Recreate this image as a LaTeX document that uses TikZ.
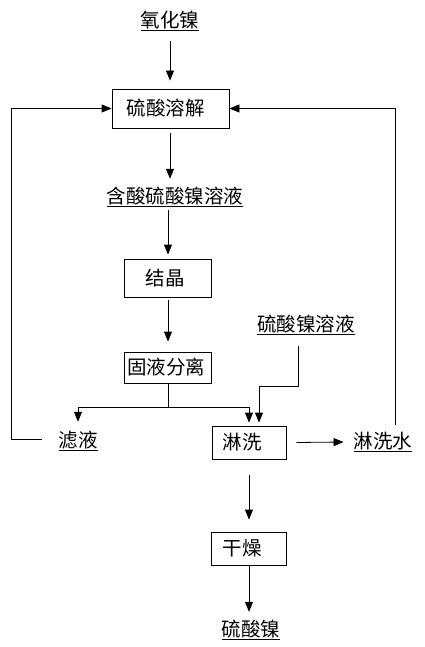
\documentclass[tikz,border=0pt]{standalone}
\usepackage{fontspec}
\setmainfont{Noto Sans CJK SC}
\usetikzlibrary{arrows.meta}
\begin{document}
\begin{tikzpicture}[x=1pt,y=-1pt,
  every node/.style={font=\fontsize{19.5}{19.5}\selectfont, inner sep=0pt},
  proc/.style={draw, line width=0.8pt, minimum height=#1, anchor=center},
  lbl/.style={anchor=center},
  flow/.style={line width=0.8pt, -{Triangle[length=10pt,width=8pt]}},
  wire/.style={line width=0.8pt}]
\useasboundingbox (0,0) rectangle (424,647);
% nodes
\node[lbl] (nio) at (170,21) {\underline{氧化镍}};
\node[proc=39pt, minimum width=117pt] (diss) at (170.5,108.5) {硫酸溶解\hspace*{10pt}};
\node[lbl] (acid) at (175,197) {\underline{含酸硫酸镍溶液}};
\node[proc=38pt, minimum width=87pt] (cryst) at (168,278) {结晶\hspace*{6pt}};
\node[proc=31pt, minimum width=87pt] (sep) at (168,367.5) {固液分离\hspace*{4pt}};
\node[lbl] (nis) at (306,325) {\underline{硫酸镍溶液}};
\node[lbl] (filt) at (78,441) {\underline{滤液}};
\node[proc=33pt, minimum width=74pt] (wash) at (249,442.5) {淋洗\hspace*{14pt}};
\node[lbl] (washw) at (383,442) {\underline{淋洗水}};
\node[proc=33pt, minimum width=75pt] (dry) at (249,548.5) {干燥\hspace*{14pt}};
\node[lbl] (prod) at (251,630) {\underline{硫酸镍}};
% helper coordinates
\coordinate (sepdown) at (168,407);
\coordinate (nistop) at (298,346);
\coordinate (nisbend) at (298,386);
\coordinate (filtend) at (42,439);
\coordinate (lb) at (11,439);
\coordinate (lt) at (11,108.5);
\coordinate (rb) at (395,425);
\coordinate (rt) at (395,108.5);
% connectors
\draw[flow] ([yshift=-10pt]nio.south) -- ([yshift=8pt]nio.south |- diss.north);
\draw[flow] ([yshift=-5pt]nio.south |- diss.south) -- ([yshift=8pt]nio.south |- acid.north);
\draw[flow] ([yshift=-3pt]acid.south -| cryst.north) -- ([yshift=4pt]cryst.north);
\draw[flow] ([yshift=-3pt]cryst.south) -- ([yshift=10pt]sep.north);
\draw[wire] (sep.south) -- (sepdown);
\draw[flow] (sepdown) -| ([yshift=9pt]filt.north);
\draw[flow] (sepdown) -| ([yshift=3pt]wash.north);
\draw[flow] (nistop) -- (nisbend) -| ([xshift=10pt,yshift=3pt]wash.north);
\draw[flow] (filtend) -- (lb) -- (lt) -- (diss.west);
\draw[flow] (rb) -- (rt) -- (diss.east);
\draw[flow] ([xshift=10pt]wash.east) -- ([xshift=-10pt]washw.west);
\draw[flow] ([yshift=-16pt]wash.south) -- ([yshift=12pt]dry.north);
\draw[flow] (dry.south) -- ([yshift=8pt]dry.south |- prod.north);
\end{tikzpicture}
\end{document}
